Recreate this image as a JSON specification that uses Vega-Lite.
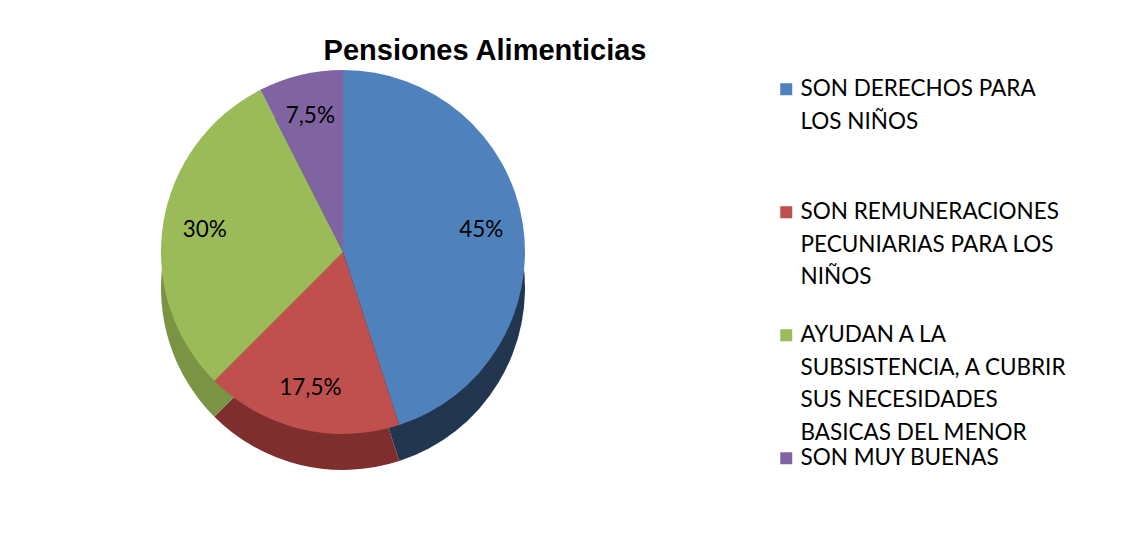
{
  "$schema": "https://vega.github.io/schema/vega-lite/v6.json",
  "padding": {"left": 18, "top": 37, "right": 0, "bottom": 0},
  "width": 650,
  "height": 360,
  "background": "white",
  "title": {
    "text": "Pensiones Alimenticias",
    "font": "Liberation Sans",
    "fontSize": 29,
    "fontWeight": "bold",
    "color": "black",
    "anchor": "middle",
    "frame": "group",
    "dx": 142,
    "offset": 4
  },
  "data": {
    "values": [
      {"categoria": "SON DERECHOS PARA LOS NIÑOS", "valor": 0.45, "orden": 1},
      {"categoria": "SON REMUNERACIONES PECUNIARIAS PARA LOS NIÑOS", "valor": 0.175, "orden": 2},
      {"categoria": "AYUDAN A LA SUBSISTENCIA, A CUBRIR SUS NECESIDADES BASICAS DEL MENOR", "valor": 0.30, "orden": 3},
      {"categoria": "SON MUY BUENAS", "valor": 0.075, "orden": 4}
    ]
  },
  "encoding": {
    "theta": {"field": "valor", "type": "quantitative", "stack": true},
    "order": {"field": "orden", "type": "quantitative", "sort": "ascending"}
  },
  "layer": [
    {
      "mark": {"type": "arc", "outerRadius": 182, "yOffset": 36},
      "encoding": {
        "color": {
          "field": "categoria",
          "type": "nominal",
          "scale": {
            "domain": ["SON DERECHOS PARA LOS NIÑOS", "SON REMUNERACIONES PECUNIARIAS PARA LOS NIÑOS", "AYUDAN A LA SUBSISTENCIA, A CUBRIR SUS NECESIDADES BASICAS DEL MENOR", "SON MUY BUENAS"],
            "range": ["#22364F", "#7E2F2D", "#7A9444", "#5E4A7A"]
          },
          "legend": null
        }
      }
    },
    {
      "mark": {"type": "arc", "outerRadius": 182},
      "encoding": {
        "color": {
          "field": "categoria",
          "type": "nominal",
          "sort": ["SON DERECHOS PARA LOS NIÑOS", "SON REMUNERACIONES PECUNIARIAS PARA LOS NIÑOS", "AYUDAN A LA SUBSISTENCIA, A CUBRIR SUS NECESIDADES BASICAS DEL MENOR", "SON MUY BUENAS"],
          "scale": {
            "domain": ["SON DERECHOS PARA LOS NIÑOS", "SON REMUNERACIONES PECUNIARIAS PARA LOS NIÑOS", "AYUDAN A LA SUBSISTENCIA, A CUBRIR SUS NECESIDADES BASICAS DEL MENOR", "SON MUY BUENAS"],
            "range": ["#4F81BD", "#C0504D", "#9BBB59", "#8064A2"]
          },
          "legend": {
            "title": null,
            "orient": "right",
            "offset": 101,
            "padding": 6,
            "symbolType": "square",
            "symbolSize": 144,
            "symbolStrokeWidth": 0,
            "labelOffset": 3,
            "labelFont": "Lato",
            "labelFontSize": 22.5,
            "labelColor": "black",
            "labelLimit": 400,
            "labelBaseline": "middle",
            "gridAlign": "all",
            "rowPadding": 2,
            "labelExpr": "datum.label == 'SON DERECHOS PARA LOS NIÑOS' ? ['SON DERECHOS PARA','LOS NIÑOS'] : datum.label == 'SON REMUNERACIONES PECUNIARIAS PARA LOS NIÑOS' ? ['SON REMUNERACIONES','PECUNIARIAS PARA LOS','NIÑOS'] : datum.label == 'AYUDAN A LA SUBSISTENCIA, A CUBRIR SUS NECESIDADES BASICAS DEL MENOR' ? ['AYUDAN A LA','SUBSISTENCIA, A CUBRIR','SUS NECESIDADES','BASICAS DEL MENOR'] : datum.label"
          }
        }
      }
    },
    {
      "mark": {"type": "text", "radius": 140, "font": "Lato", "fontSize": 22.5, "color": "black"},
      "encoding": {
        "text": {"field": "valor", "type": "quantitative", "format": ".1~%"}
      }
    }
  ],
  "resolve": {"scale": {"color": "independent"}},
  "config": {
    "view": {"stroke": null},
    "locale": {"number": {"decimal": ",", "thousands": ".", "grouping": [3], "currency": ["", " €"]}},
    "style": {"guide-label": {"lineHeight": 32.5}}
  }
}
